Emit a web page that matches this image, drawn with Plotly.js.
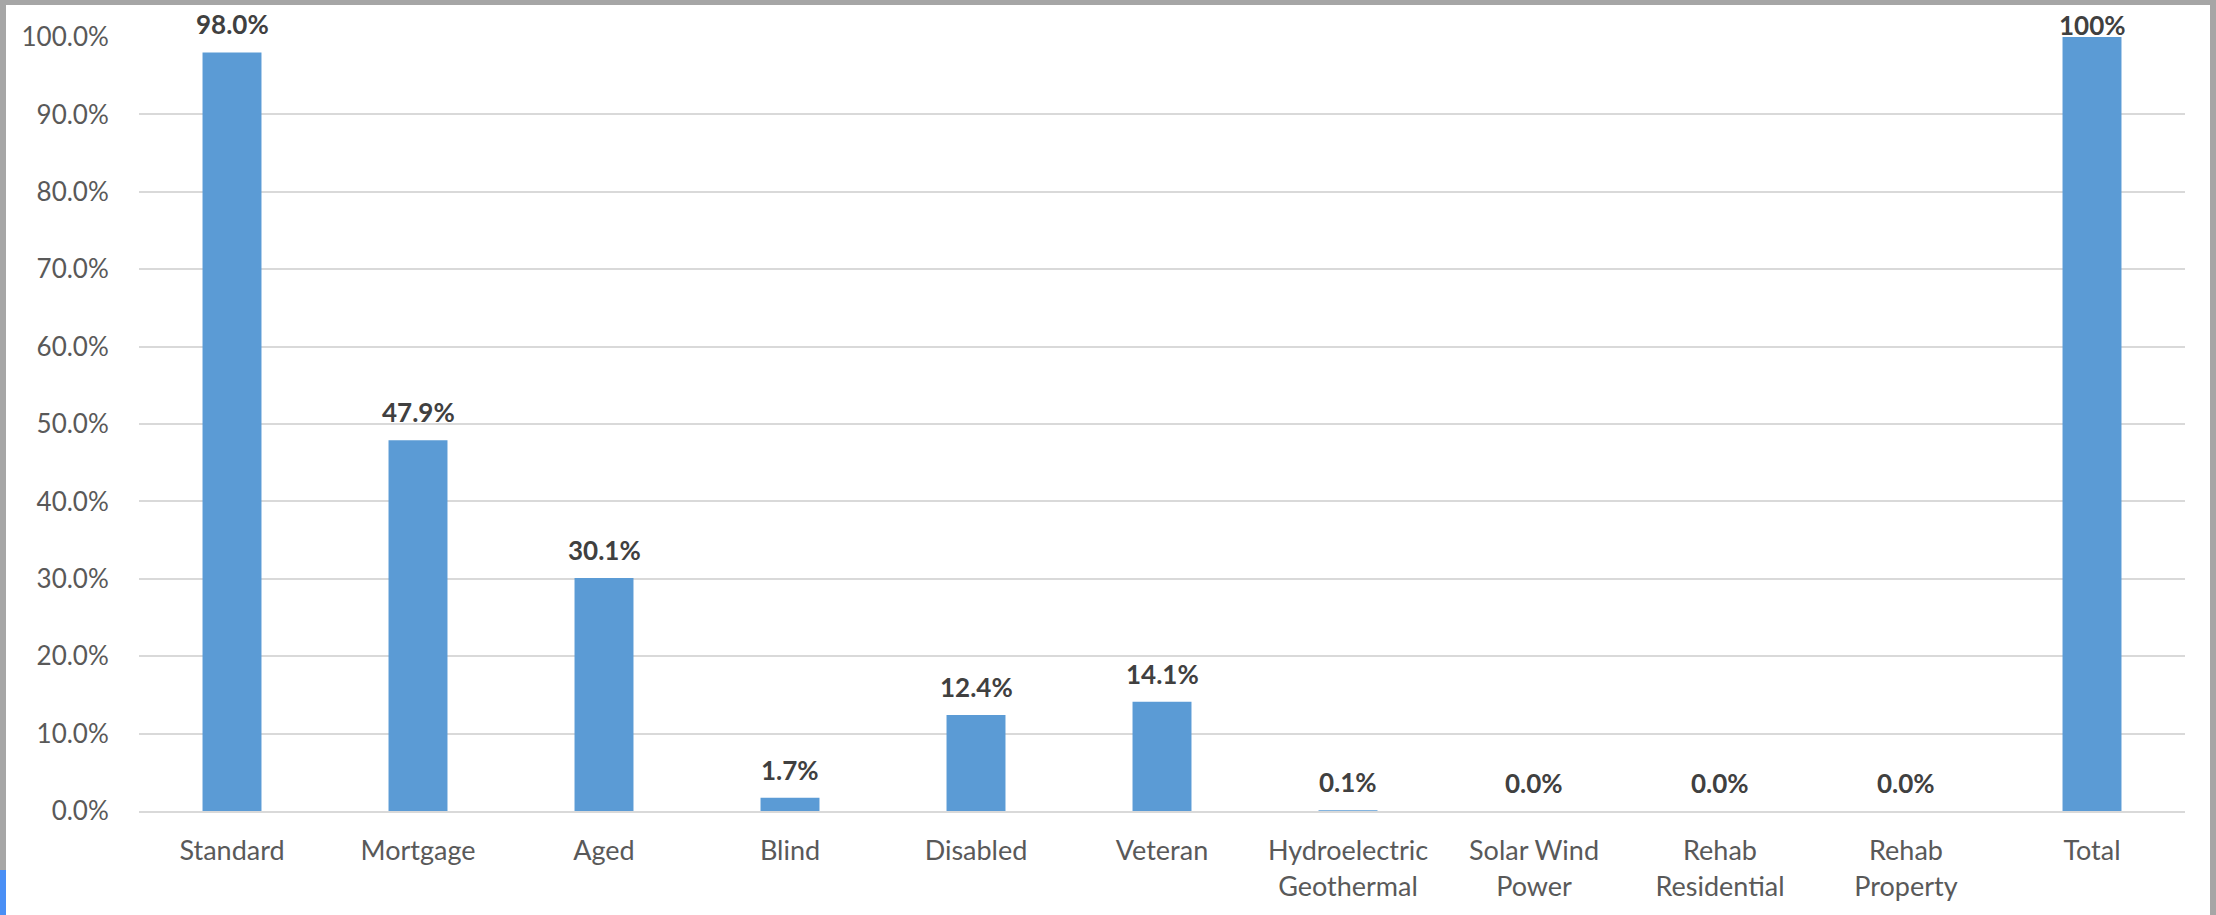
<!DOCTYPE html>
<html>
<head>
<meta charset="utf-8">
<script src="https://cdn.plot.ly/plotly-3.0.1.min.js"></script>
<style>
  html, body { margin: 0; padding: 0; background: #ffffff; }
  #wrap { position: relative; width: 2216px; height: 915px; overflow: hidden; }
  #chart { position: absolute; left: 0; top: 0; width: 2216px; height: 915px; }
  .edge { position: absolute; background: #a6a6a6; }
</style>
</head>
<body>
<div id="wrap">
  <div id="chart"></div>
  <div class="edge" style="left:0;top:0;width:2216px;height:5px;"></div>
  <div class="edge" style="left:0;top:0;width:6px;height:870px;"></div>
  <div class="edge" style="left:0;top:870px;width:6px;height:45px;background:#4a8ff5;"></div>
  <div class="edge" style="left:2210px;top:0;width:6px;height:915px;"></div>
</div>
<script>
const categories = ["Standard", "Mortgage", "Aged", "Blind", "Disabled", "Veteran",
  "Hydroelectric<br>Geothermal", "Solar Wind<br>Power", "Rehab<br>Residential", "Rehab<br>Property", "Total"];
const values = [98.0, 47.9, 30.1, 1.7, 12.4, 14.1, 0.1, 0.0, 0.0, 0.0, 100];
const valueLabels = ["98.0%", "47.9%", "30.1%", "1.7%", "12.4%", "14.1%", "0.1%", "0.0%", "0.0%", "0.0%", "100%"];
const yTickValues = [0, 10, 20, 30, 40, 50, 60, 70, 80, 90, 100];
const yTickLabels = ["0.0%", "10.0%", "20.0%", "30.0%", "40.0%", "50.0%", "60.0%", "70.0%", "80.0%", "90.0%", "100.0%"];

const FONT = "Lato, 'Open Sans', sans-serif";

const trace = {
  type: "bar",
  x: categories,
  y: values,
  marker: { color: "#5b9bd5" },
  hoverinfo: "skip"
};

const annotations = categories.map((c, i) => ({
  x: c,
  y: values[i],
  xref: "x",
  yref: "y",
  text: valueLabels[i],
  showarrow: false,
  yanchor: "bottom",
  xanchor: "center",
  yshift: (values[i] >= 100 ? -6 : 10),
  font: { family: FONT, size: 26, color: "#404040", weight: "bold" }
}));

const layout = {
  width: 2216,
  height: 915,
  margin: { l: 139, r: 31, t: 37, b: 104 },
  paper_bgcolor: "#ffffff",
  plot_bgcolor: "#ffffff",
  showlegend: false,
  bargap: 0.683,
  font: { family: FONT, size: 27, color: "#595959" },
  xaxis: {
    type: "category",
    showgrid: false,
    showline: true,
    linecolor: "#d9d9d9",
    linewidth: 2,
    ticks: "outside",
    ticklen: 15,
    tickcolor: "rgba(0,0,0,0)",
    tickfont: { family: FONT, size: 27, color: "#595959" },
    fixedrange: true
  },
  yaxis: {
    range: [0, 100],
    tickmode: "array",
    tickvals: yTickValues,
    ticktext: yTickLabels,
    showgrid: true,
    gridcolor: "#d9d9d9",
    gridwidth: 2,
    zeroline: false,
    showline: false,
    ticks: "outside",
    ticklen: 24,
    tickcolor: "rgba(0,0,0,0)",
    tickfont: { family: FONT, size: 26, color: "#595959" },
    fixedrange: true
  },
  annotations: annotations
};

Plotly.newPlot("chart", [trace], layout, { staticPlot: true, displayModeBar: false });
</script>
</body>
</html>
